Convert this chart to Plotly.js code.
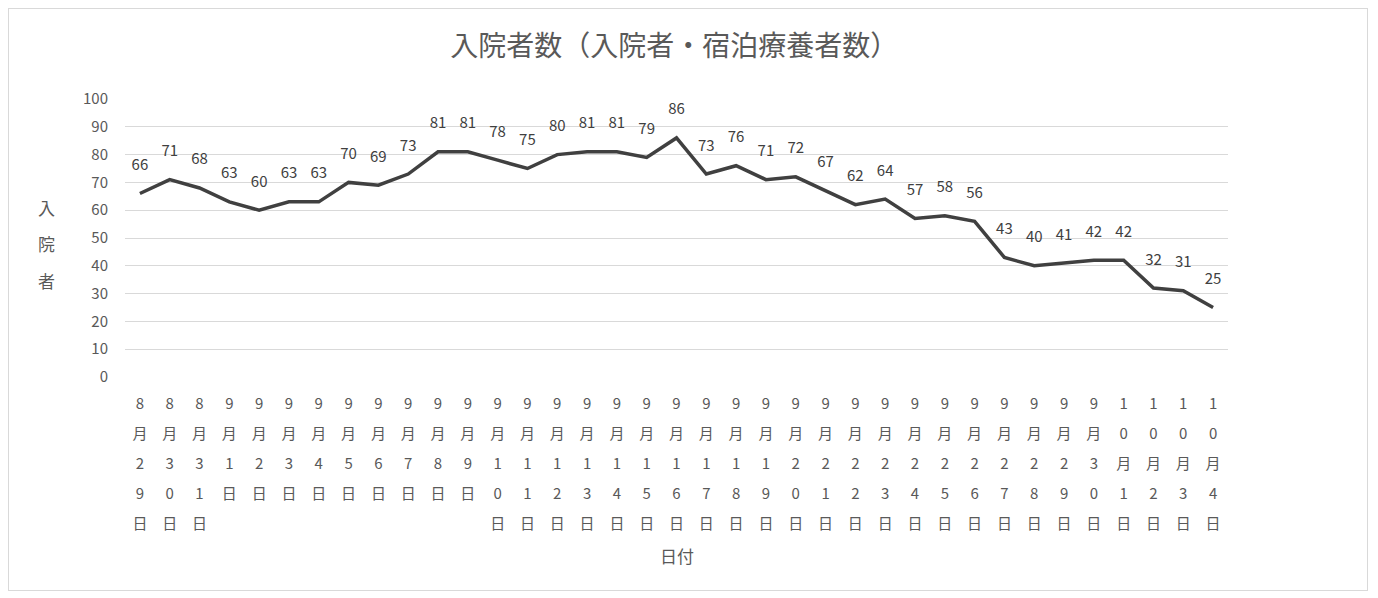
<!DOCTYPE html>
<html><head><meta charset="utf-8">
<script src="https://cdn.plot.ly/plotly-3.0.1.min.js"></script>
<style>
html,body{margin:0;padding:0;background:#fff;}
#wrap{position:relative;width:1378px;height:598px;}
#chart{width:1378px;height:598px;}
#frame{position:absolute;left:8px;top:8px;width:1358px;height:581px;border:1px solid #d9d9d9;pointer-events:none;}
</style></head>
<body>
<div id="wrap"><div id="chart"></div><div id="frame"></div></div>
<script>
const dates = ["8月29日","8月30日","8月31日","9月1日","9月2日","9月3日","9月4日","9月5日","9月6日","9月7日","9月8日","9月9日","9月10日","9月11日","9月12日","9月13日","9月14日","9月15日","9月16日","9月17日","9月18日","9月19日","9月20日","9月21日","9月22日","9月23日","9月24日","9月25日","9月26日","9月27日","9月28日","9月29日","9月30日","10月1日","10月2日","10月3日","10月4日"];
const inpatients = [66,71,68,63,60,63,63,70,69,73,81,81,78,75,80,81,81,79,86,73,76,71,72,67,62,64,57,58,56,43,40,41,42,42,32,31,25];
const yTicks = [0,10,20,30,40,50,60,70,80,90,100];
const chartTitle = "入院者数（入院者・宿泊療養者数）";
const yTitle = "入院者";
const xTitle = "日付";

const FONT = '"Noto Sans CJK JP", "Noto Sans", sans-serif';
const stack = s => Array.from(s).map(c => '<span style="font-size:15px">' + c + '</span>').join('<br>');

const trace = {
  x: dates, y: inpatients, type: 'scatter', mode: 'lines+markers+text',
  line: {color: '#404040', width: 3.5},
  marker: {size: 30, color: 'rgba(0,0,0,0)', line: {width: 0}},
  text: inpatients.map(String), textposition: 'top center',
  textfont: {family: FONT, size: 15, color: '#404040'},
  cliponaxis: false, hoverinfo: 'x+y'
};

const layout = {
  width: 1378, height: 598,
  margin: {l: 125, r: 150, t: 99, b: 221},
  paper_bgcolor: '#fff', plot_bgcolor: '#fff',
  showlegend: false,
  font: {family: FONT, color: '#595959'},
  title: {text: chartTitle, font: {family: FONT, size: 28, color: '#595959'}, x: 0.498, xref: 'paper', y: 0.922, yref: 'container', xanchor: 'center', yanchor: 'middle'},
  xaxis: {
    type: 'category', range: [-0.5, dates.length - 0.5],
    tickmode: 'array', tickvals: dates, ticktext: dates.map(stack),
    tickfont: {family: FONT, size: 23, color: '#595959'},
    showgrid: false, zeroline: false, showline: false, ticks: '',
    tickangle: 0, automargin: false, ticklabelstandoff: 8,
    title: {text: ''}
  },
  yaxis: {
    range: [0, 100], tickmode: 'array', tickvals: yTicks,
    tickfont: {family: FONT, size: 15, color: '#595959'},
    gridcolor: '#d9d9d9', gridwidth: 1, zeroline: false, showline: false,
    ticks: '', automargin: false, ticklabelstandoff: 16,
    title: {text: ''}
  },
  annotations: [
    {text: xTitle, xref: 'paper', yref: 'paper', x: 0.5, y: (377 - 555) / 278, xanchor: 'center', yanchor: 'middle', showarrow: false, font: {family: FONT, size: 17, color: '#595959'}},
    {text: Array.from(yTitle).map(c => '<span style="font-size:17px">' + c + '</span>').join('<br>'), xref: 'paper', yref: 'paper', x: (47 - 125) / 1103, y: (377 - 244) / 278, xanchor: 'center', yanchor: 'middle', showarrow: false, font: {family: FONT, size: 28, color: '#595959'}}
  ]
};

Plotly.newPlot('chart', [trace], layout, {displayModeBar: false, responsive: false});
</script>
</body></html>
